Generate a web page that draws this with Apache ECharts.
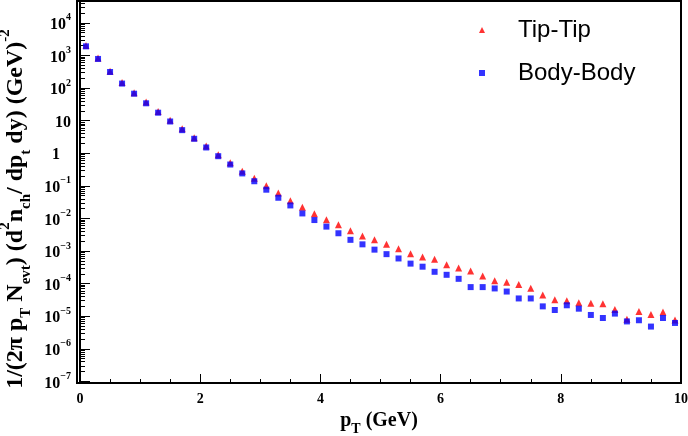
<!DOCTYPE html>
<html><head><meta charset="utf-8">
<script src="https://cdn.jsdelivr.net/npm/echarts@6/dist/echarts.min.js"></script>
<style>html,body{margin:0;padding:0;background:#fff}#c{width:688px;height:436px}</style>
</head><body><div id="c"></div>
<script>
// ---- data ----
const pT = [0.1,0.3,0.5,0.7,0.9,1.1,1.3,1.5,1.7,1.9,
            2.1,2.3,2.5,2.7,2.9,3.1,3.3,3.5,3.7,3.9,
            4.1,4.3,4.5,4.7,4.9,5.1,5.3,5.5,5.7,5.9,
            6.1,6.3,6.5,6.7,6.9,7.1,7.3,7.5,7.7,7.9,
            8.1,8.3,8.5,8.7,8.9,9.1,9.3,9.5,9.7,9.9];
const tipTip = [2000,830,330,147,72,37,19,10.2,5.6,3.0,
            1.65,0.9,0.51,0.28,0.17,0.1,0.06,0.035,0.022,0.014,
            0.0091,0.0064,0.0042,0.0029,0.0022,0.0016,0.00117,0.00082,0.00066,0.00056,
            0.00038,0.0003,0.000245,0.00017,0.000122,0.00011,9.3e-5,7.2e-5,4.5e-5,3.2e-5,
            2.95e-5,2.6e-5,2.5e-5,2.4e-5,1.6e-5,8e-6,1.38e-5,1.12e-5,1.35e-5,7.6e-6];
const bodyBody = [1900,780,310,137,67,34,17.5,9.4,5.1,2.77,
            1.5,0.81,0.45,0.24,0.138,0.076,0.043,0.025,0.0142,0.0089,
            0.0056,0.0035,0.0022,0.0016,0.0011,0.0008,0.00059,0.00041,0.00033,0.00023,
            0.000186,0.00014,7.8e-5,7.8e-5,7.1e-5,5.7e-5,3.5e-5,3.5e-5,2.0e-5,1.55e-5,
            2.16e-5,1.7e-5,1.09e-5,8.8e-6,1.2e-5,6.9e-6,7.5e-6,4.8e-6,8.8e-6,6.2e-6];
const seriesNames = ['Tip-Tip','Body-Body'];
const xMajorTicks = [0,2,4,6,8,10];
const xMinorTicks = [0.5,1,1.5,2.5,3,3.5,4.5,5,5.5,6.5,7,7.5,8.5,9,9.5];
const yMajorTicks = [1e-7,1e-6,1e-5,1e-4,1e-3,1e-2,1e-1,1,10,100,1e3,1e4];
const yMinorMultipliers = [2,3,4,5,6,7,8,9];

const yMin = Math.pow(10,-7.05), yMax = Math.pow(10,4.67);
const yMinorTicks = [];
[1e-8].concat(yMajorTicks).forEach(d => yMinorMultipliers.forEach(m => {
  const v = d*m; if (v > yMin && v < yMax) yMinorTicks.push(v);
}));

const SERIF = '"Liberation Serif","Times New Roman",serif';
const SANS = '"Liberation Sans",Arial,sans-serif';

const chart = echarts.init(document.getElementById('c'), null, {renderer:'canvas'});
chart.setOption({
  animation:false,
  backgroundColor:'#fff',
  grid:{left:77,right:7,top:1,bottom:53,containLabel:false,outerBoundsMode:'none',
        show:true,borderColor:'#000',borderWidth:2,backgroundColor:'transparent'},
  legend:{
    orient:'vertical', left:479, top:18, padding:0,
    itemWidth:6, itemHeight:6, itemGap:19,
    data:[{name:seriesNames[0],icon:'triangle'},{name:seriesNames[1],icon:'rect'}],
    textStyle:{fontFamily:SANS,fontSize:24,color:'#000',lineHeight:24,padding:[0,0,0,28]}
  },
  xAxis:[{
    type:'value', min:-0.05, max:10,
    axisLine:{show:true,onZero:false,lineStyle:{color:'#000',width:2}},
    axisTick:{show:true,inside:true,length:9,customValues:xMajorTicks,lineStyle:{color:'#000',width:1}},
    axisLabel:{show:true,customValues:xMajorTicks,margin:9,fontFamily:SERIF,fontWeight:'bold',fontSize:14,color:'#000'},
    splitLine:{show:false},
    name:'{b|p}{sub|T}{b| (GeV)}', nameLocation:'middle', nameGap:14,
    nameTextStyle:{verticalAlign:'top',rich:{
      b:{fontFamily:SERIF,fontWeight:'bold',fontSize:20,lineHeight:30,verticalAlign:'middle',color:'#000'},
      sub:{fontFamily:SERIF,fontWeight:'bold',fontSize:14,lineHeight:12,verticalAlign:'bottom',color:'#000'}
    }}
  },{
    type:'value', min:-0.05, max:10, position:'bottom',
    axisLine:{show:false}, axisLabel:{show:false}, splitLine:{show:false},
    axisTick:{show:true,inside:true,length:4,customValues:xMinorTicks,lineStyle:{color:'#000',width:1}}
  }],
  yAxis:[{
    type:'log', min:yMin, max:yMax, logBase:10,
    axisLine:{show:true,lineStyle:{color:'#000',width:2}},
    axisTick:{show:true,inside:true,length:10,customValues:yMajorTicks,lineStyle:{color:'#000',width:1}},
    axisLabel:{show:true,customValues:yMajorTicks,margin:6,
      formatter:function(v){
        const e = Math.round(Math.log10(v));
        if (e===0) return '{one|1}';
        if (e===1) return '{b|10}';
        return '{b|10}{sup|' + (e<0 ? '\u2212'+(-e) : e) + '}';
      },
      rich:{
        b:{fontFamily:SERIF,fontWeight:'bold',fontSize:16,lineHeight:20,verticalAlign:'bottom',color:'#000'},
        one:{fontFamily:SERIF,fontWeight:'bold',fontSize:16,lineHeight:20,verticalAlign:'bottom',color:'#000',padding:[0,11,0,0]},
        sup:{fontFamily:SERIF,fontWeight:'bold',fontSize:10,lineHeight:12,verticalAlign:'top',color:'#000'}
      }},
    splitLine:{show:false},
    name:'{b|1/(2\u03c0 p}{sub|T}{b| N}{sub|evt}{b|) (d}{sup|2}{b|n}{sub|ch}{b|/ dp}{sub|t}{b| dy) (GeV)}{sup|-2}',
    nameLocation:'middle', nameGap:25, nameRotate:90,
    nameTextStyle:{padding:[0,34,0,0],rich:{
      b:{fontFamily:SERIF,fontWeight:'bold',fontSize:24,lineHeight:36,verticalAlign:'middle',color:'#000'},
      sub:{fontFamily:SERIF,fontWeight:'bold',fontSize:15,lineHeight:22,verticalAlign:'bottom',color:'#000'},
      sup:{fontFamily:SERIF,fontWeight:'bold',fontSize:15,lineHeight:20,verticalAlign:'top',color:'#000'}
    }}
  },{
    type:'log', min:yMin, max:yMax, logBase:10, position:'left',
    axisLine:{show:false}, axisLabel:{show:false}, splitLine:{show:false},
    axisTick:{show:true,inside:true,length:5,customValues:yMinorTicks,lineStyle:{color:'#000',width:1}}
  }],
  series:[{
    name:seriesNames[0], type:'scatter', symbol:'triangle', symbolSize:7,
    itemStyle:{color:'#ff0000'},
    data:pT.map((x,i)=>[x,tipTip[i]])
  },{
    name:seriesNames[1], type:'scatter', symbol:'rect', symbolSize:6,
    itemStyle:{color:'#0000ff'},
    data:pT.map((x,i)=>[x,bodyBody[i]])
  }]
});
</script></body></html>
